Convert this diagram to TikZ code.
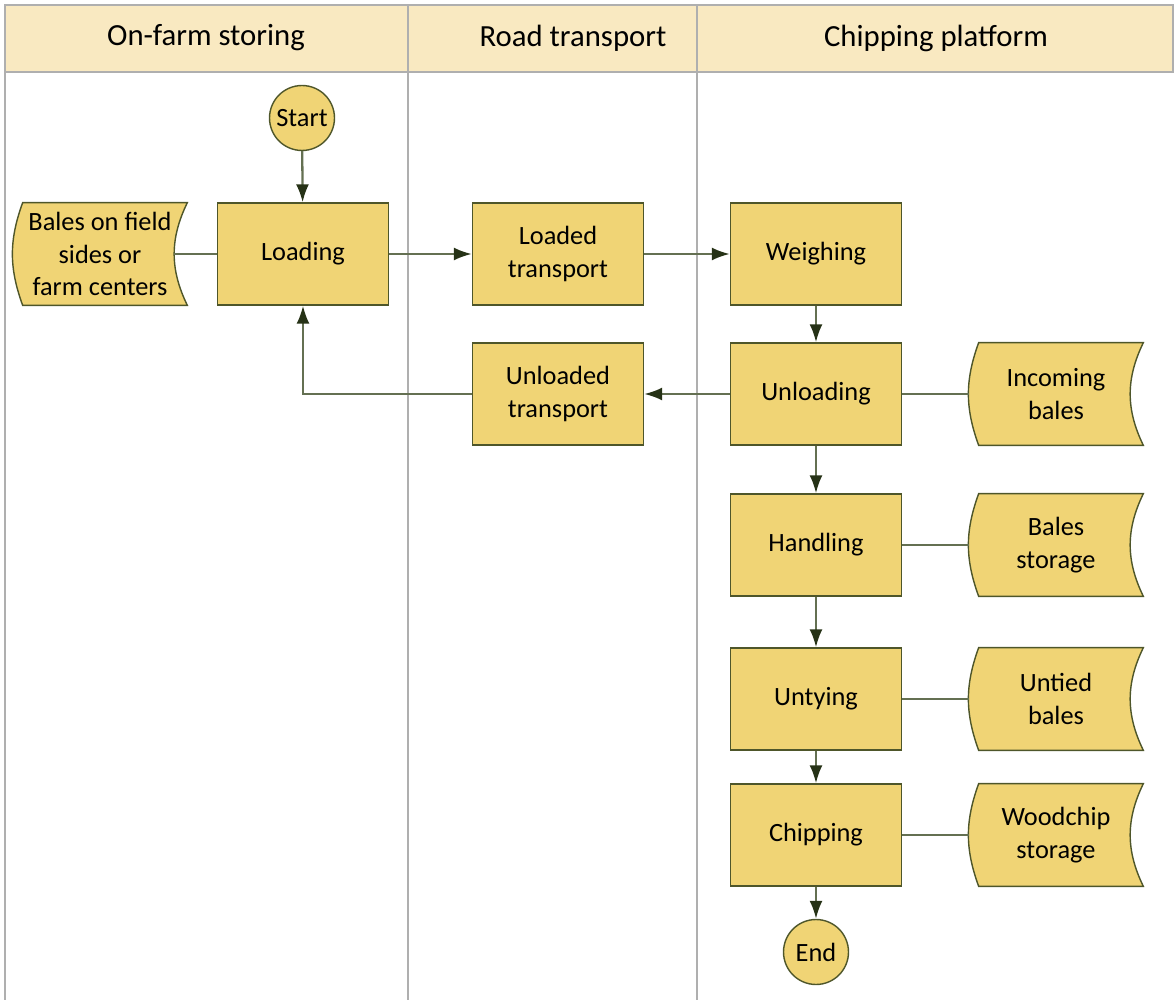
\documentclass[tikz,border=0pt]{standalone}
\usepackage{fontspec}
\setmainfont{Carlito}
\usetikzlibrary{arrows.meta,backgrounds}

\definecolor{boxfill}{RGB}{240,212,117}
\definecolor{boxline}{RGB}{78,86,42}
\definecolor{flowline}{RGB}{100,112,82}
\definecolor{tipcolor}{RGB}{38,50,22}
\definecolor{headfill}{RGB}{249,233,193}
\definecolor{laneline}{RGB}{175,175,175}

\tikzset{
    process/.style={draw=boxline, fill=boxfill, line width=0.8pt, minimum width=3.42cm,
        minimum height=2.04cm, align=center, font=\fontsize{15}{18.5}\selectfont},
    terminal/.style={circle, draw=boxline, fill=boxfill, line width=0.8pt, minimum size=1.3cm,
        inner sep=0pt, font=\fontsize{15}{18.5}\selectfont},
    stored/.style={minimum width=3.48cm, minimum height=2.04cm, align=center,
        font=\fontsize{15}{18.5}\selectfont},
    storedshape/.style={draw=boxline, fill=boxfill, line width=0.8pt},
    lanehead/.style={font=\fontsize{17.5}{20}\selectfont},
    flow/.style={draw=flowline, line width=1.3pt, -{Latex[length=0.36cm, width=0.26cm, color=tipcolor]}},
    link/.style={draw=flowline, line width=1.3pt},
}

\begin{document}
\begin{tikzpicture}[x=0.02cm, y=-0.02cm]
    \useasboundingbox (0,0) rectangle (1174,1000);

    % lanes
    \draw[laneline, line width=0.9pt, fill=headfill] (5,5) rectangle (1173,72);
    \foreach \x in {5,408,697}
        \draw[laneline, line width=0.9pt] (\x,5) -- (\x,1000);
    \node[lanehead] (farmlane) at (206,38) {On-farm storing};
    \node[lanehead] (roadlane) at (573,38) {Road transport};
    \node[lanehead] (chiplane) at (936,38) {Chipping platform};

    % steps
    \node[terminal] (start) at (302,118) {Start};
    \node[process] (loading) at (303,254) {Loading};
    \node[process] (loaded) at (558,254) {Loaded\\transport};
    \node[process] (weighing) at (816,254) {Weighing};
    \node[process] (unloaded) at (558,394) {Unloaded\\transport};
    \node[process] (unloading) at (816,394) {Unloading};
    \node[process] (handling) at (816,545) {Handling};
    \node[process] (untying) at (816,699) {Untying};
    \node[process] (chipping) at (816,835) {Chipping};
    \node[terminal] (end) at (816,952) {End};

    % storages
    \node[stored] (fieldbales) at (100,254) {Bales on field\\sides or\\farm centers};
    \node[stored] (incoming) at (1056,394) {Incoming\\bales};
    \node[stored] (balestore) at (1056,545) {Bales\\storage};
    \node[stored] (untied) at (1056,699) {Untied\\bales};
    \node[stored] (woodchip) at (1056,835) {Woodchip\\storage};
    \begin{pgfonlayer}{background}
        \foreach \s in {fieldbales,incoming,balestore,untied,woodchip}
            \draw[storedshape] ([xshift=0.2cm]\s.north west) -- (\s.north east)
                to[bend right=26] (\s.south east) -- ([xshift=0.2cm]\s.south west)
                to[bend left=20] cycle;
    \end{pgfonlayer}

    % connectors
    \draw[flow] (start) -- (loading);
    \draw[link] (loading) -- ([xshift=-0.26cm]fieldbales.east);
    \draw[flow] (loading) -- (loaded);
    \draw[flow] (loaded) -- (weighing);
    \draw[flow] (weighing) -- (unloading);
    \draw[flow] (unloading) -- (unloaded);
    \draw[flow] (unloaded.west) -| (loading.south);
    \draw[link] (unloading) -- (incoming.west);
    \draw[flow] (unloading) -- (handling);
    \draw[link] (handling) -- (balestore.west);
    \draw[flow] (handling) -- (untying);
    \draw[link] (untying) -- (untied.west);
    \draw[flow] (untying) -- (chipping);
    \draw[link] (chipping) -- (woodchip.west);
    \draw[flow] (chipping) -- (end);
\end{tikzpicture}
\end{document}
